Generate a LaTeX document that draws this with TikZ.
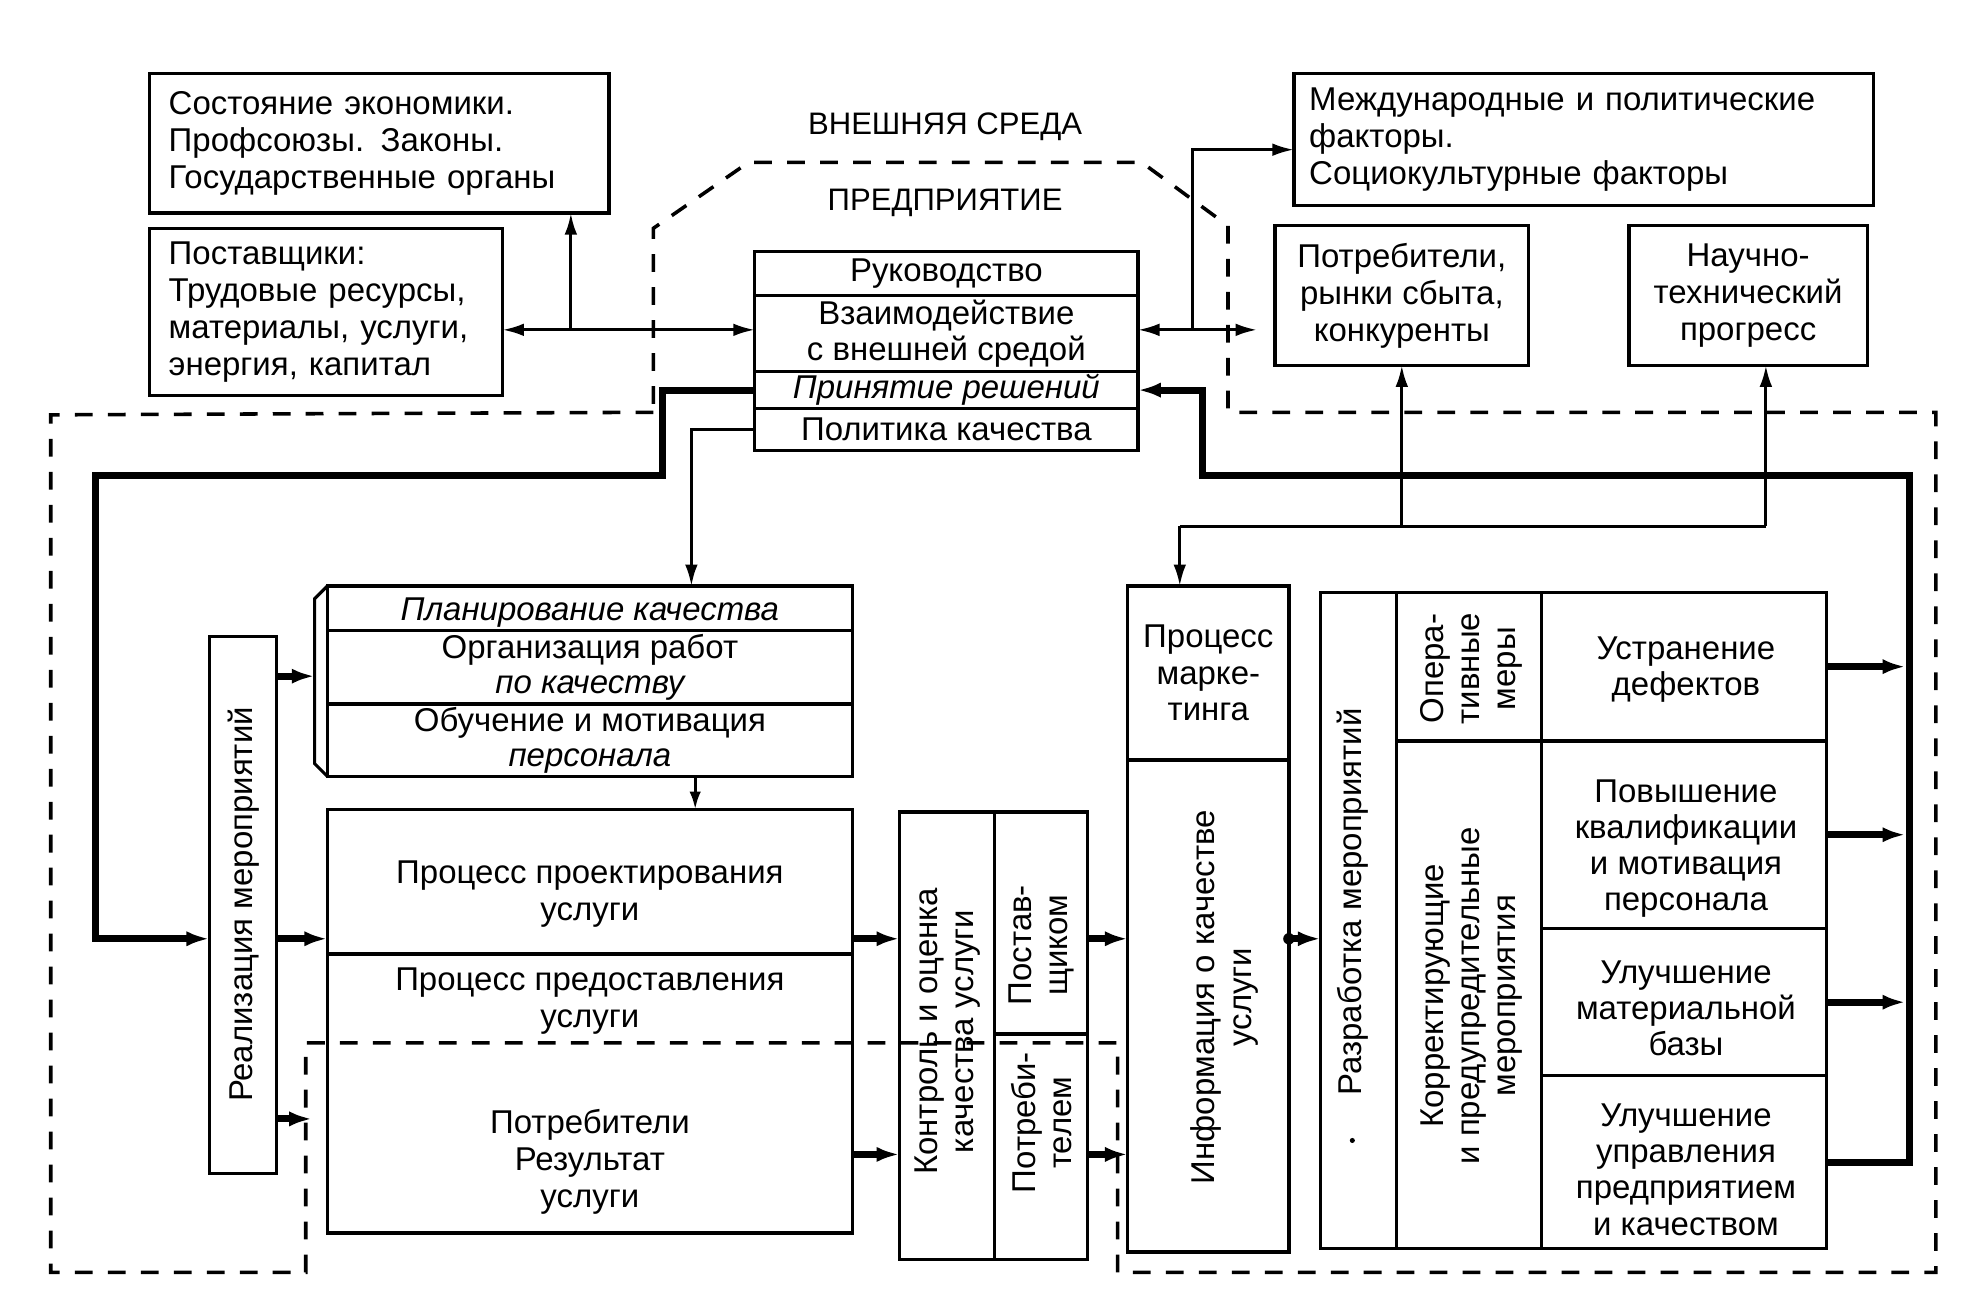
\documentclass[tikz,border=0pt]{standalone}
\usepackage{fontspec}
\setmainfont{Liberation Sans}
\usetikzlibrary{arrows.meta}
\newcommand\fsz{\fontsize{26}{29}\selectfont}
\newcommand\fsr{\fontsize{26}{28.5}\selectfont}
\newcommand\fsl{\fontsize{24.5}{27}\selectfont}
\begin{document}
\begin{tikzpicture}[x=1pt,y=-1pt,
  box/.style={draw, line width=2.6pt, inner sep=0pt, outer sep=0pt, align=center, font=\fsz},
  txt/.style={inner sep=0pt, align=center, font=\fsz},
  rtxt/.style={inner sep=0pt, align=center, font=\fsz, rotate=90},
  lab/.style={inner sep=0pt, font=\fsl},
  arr/.style={line width=2.4pt, -{Latex[length=17pt,width=10pt]}},
  sarr/.style={line width=2.4pt, -{Latex[length=14pt,width=9pt]}},
  darr/.style={line width=2.4pt, {Latex[length=17pt,width=10pt]}-{Latex[length=17pt,width=10pt]}},
  thkarr/.style={line width=5.5pt, line join=miter, -{Latex[length=18pt,width=12pt]}},
  bnd/.style={line width=2.8pt, dash pattern=on 14pt off 12pt},
]
\useasboundingbox (0,0) rectangle (1560,1020);
\fill[white] (0,0) rectangle (1560,1020);

% ---------- external environment ----------
\node[box, minimum width=362pt, minimum height=110pt, text width=332pt, align=left] (econ) at (299,113)
  {Состояние экономики.\\Профсоюзы. Законы.\\Государственные органы};
\node[box, minimum width=278pt, minimum height=132pt, text width=248pt, align=left] (sup) at (257,246)
  {Поставщики:\\Трудовые ресурсы,\\материалы, услуги,\\энергия, капитал};
\node[box, minimum width=457pt, minimum height=104pt, text width=433pt, align=left] (intl) at (1248.5,110)
  {Международные и политические\\факторы.\\Социокультурные факторы};
\node[box, minimum width=200pt, minimum height=110pt] (potr1) at (1105,233)
  {Потребители,\\рынки сбыта,\\конкуренты};
\node[box, minimum width=188pt, minimum height=110pt] (nauka) at (1378,233)
  {Научно-\\технический\\прогресс};

\node[lab] (vs) at (745,100) {ВНЕШНЯЯ СРЕДА};
\node[lab] (pr) at (745,160) {ПРЕДПРИЯТИЕ};

% ---------- management stack ----------
\node[box, minimum width=302pt, minimum height=35pt] (ruk) at (746,215.5) {Руководство};
\node[box, minimum width=302pt, minimum height=60pt] (vz) at (746,263) {Взаимодействие\\с внешней средой};
\node[box, minimum width=302pt, minimum height=29pt] (prin) at (746,307.5) {\itshape Принятие решений};
\node[box, minimum width=302pt, minimum height=33pt] (pol) at (746,338.5) {Политика качества};

% ---------- planning ----------
\node[box, minimum width=414pt, minimum height=35pt] (plan) at (465,479.5) {};
\node[txt] (plant) at (465,483) {\itshape Планирование качества};
\node[box, minimum width=414pt, minimum height=58pt, font=\fontsize{26}{28}\selectfont] (org) at (465,526) {Организация работ\\\itshape по качеству};
\node[box, minimum width=414pt, minimum height=57pt, font=\fontsize{26}{28}\selectfont] (obu) at (465,583.5) {Обучение и мотивация\\\itshape персонала};
\draw[line width=2.4pt] (plan.north west) -- ++(-10,10) -- ++(0,130) -- (obu.south west);

% ---------- processes ----------
\node[box, minimum width=414pt, minimum height=114pt] (proj) at (465,695) {};
\node[txt] (projt) at (465,705) {Процесс проектирования\\услуги};
\node[box, minimum width=414pt, minimum height=220pt] (prov) at (465,862) {};
\node[txt] (provt1) at (465,789) {Процесс предоставления\\услуги};
\node[txt] (provt2) at (465,916) {Потребители\\Результат\\услуги};

\node[box, minimum width=53pt, minimum height=423pt] (real) at (191.5,713.5) {};
\node[rtxt] (realt) at (192,713) {Реализация мероприятий};

% ---------- control ----------
\node[box, minimum width=75pt, minimum height=353pt] (kon) at (746.5,816.5) {};
\node[rtxt] (kont) at (747,813) {Контроль и оценка\\качества услуги};
\node[box, minimum width=73pt, minimum height=175pt] (post) at (820.5,727.5) {};
\node[rtxt] (postt) at (821,745) {Постав-\\щиком};
\node[box, minimum width=73pt, minimum height=178pt] (potc) at (820.5,904) {};
\node[rtxt] (potct) at (821,885) {Потреби-\\телем};

% ---------- marketing ----------
\node[box, minimum width=127pt, minimum height=137pt] (mark) at (952.5,530.5) {Процесс\\марке-\\тинга};
\node[box, minimum width=127pt, minimum height=388pt] (info) at (952.5,793) {};
\node[rtxt] (infot) at (965,786) {Информация о качестве\\услуги};

% ---------- measures ----------
\node[box, minimum width=60pt, minimum height=517pt] (razr) at (1071,725.5) {};
\node[rtxt] (razrt) at (1066,711) {Разработка мероприятий};
\fill (1066,899) circle (2pt);
\node[box, minimum width=114pt, minimum height=117pt] (oper) at (1158,525.5) {};
\node[rtxt, font=\fsr] (opert) at (1160,527) {Опера-\\тивные\\меры};
\node[box, minimum width=114pt, minimum height=400pt] (korr) at (1158,784) {};
\node[rtxt, font=\fsr] (korrt) at (1160,785) {Корректирующие\\и предупредительные\\мероприятия};

\node[box, minimum width=225pt, minimum height=117pt] (ustr) at (1327.5,525.5) {};
\node[txt, font=\fsr] (ustrt) at (1329,528) {Устранение\\дефектов};
\node[box, minimum width=225pt, minimum height=148pt] (povy) at (1327.5,658) {};
\node[txt, font=\fsr] (povyt) at (1329,669) {Повышение\\квалификации\\и мотивация\\персонала};
\node[box, minimum width=225pt, minimum height=116pt] (ulm) at (1327.5,790) {};
\node[txt, font=\fsr] (ulmt) at (1329,795) {Улучшение\\материальной\\базы};
\node[box, minimum width=225pt, minimum height=136pt] (ulu) at (1327.5,916) {};
\node[txt, font=\fsr] (ulut) at (1329,922) {Улучшение\\управления\\предприятием\\и качеством};

% ---------- coordinates ----------
\coordinate (j1) at (450,260);
\coordinate (j2) at (940,260);
\coordinate (j3) at (940,118);
\coordinate (t1) at (522,375);
\coordinate (t2) at (75,375);
\coordinate (t3) at (75,740);
\coordinate (p1) at (545,0);
\coordinate (p2) at (548,0);
\coordinate (r1) at (1505,375);
\coordinate (r2) at (948,375);
\coordinate (m1) at (930,415);
\coordinate (m2) at (1392,415);
\coordinate (fc) at (248,533);
\coordinate (fc2) at (246,882);
\coordinate (q1) at (0,910);

% ---------- connectors ----------
\draw[darr] (sup.east |- j1) -- (vz.west |- j1);
\draw[arr] (j1) -- (j1 |- econ.south);
\draw[darr, shorten >=14pt] (vz.east |- j2) -- (potr1.west |- j2);
\draw[arr] (j2) -- (j3) -- (intl.west |- j3);

\draw[thkarr] (prin.west) -| (t1) -- (t2) -- (t3) -- (real.west |- t3);
\draw[arr] (pol.west) -| (p1 |- plan.north);
\draw[thkarr] (ulu.east) -| (r1) -- (r2) |- (prin.east);

\draw[line width=2.4pt] (m1) -- (m2);
\draw[arr] (m1 -| potr1.south) -- (potr1.south);
\draw[arr] (m2) -- (m2 |- nauka.south);
\draw[arr] (m1) -- (m1 |- mark.north);

\draw[thkarr] (real.east |- fc) -- (fc);
\draw[thkarr] (real.east |- t3) -- (proj.west |- t3);
\draw[thkarr] (real.east |- fc2) -- (fc2);
\draw[sarr] (p2 |- obu.south) -- (p2 |- proj.north);

\draw[thkarr] (proj.east |- t3) -- (kon.west |- t3);
\draw[thkarr] (prov.east |- q1) -- (kon.west |- q1);
\draw[thkarr] (post.east |- t3) -- (info.west |- t3);
\draw[thkarr] (potc.east |- q1) -- (info.west |- q1);
\fill (info.east |- t3) circle (4.5pt);
\draw[thkarr] (info.east |- t3) -- (razr.west |- t3);

\draw[thkarr, shorten >=3pt] (ustr.east) -- (ustr.east -| r1);
\draw[thkarr, shorten >=3pt] (povy.east) -- (povy.east -| r1);
\draw[thkarr, shorten >=3pt] (ulm.east) -- (ulm.east -| r1);

% ---------- enterprise boundary ----------
\draw[bnd] (515,325) -- (40,327) -- (40,1003) -- (241,1003) -- (241,822) -- (881,822)
  -- (881,1003) -- (1526,1003) -- (1526,325) -- (968,325) -- (968,178) -- (900,128)
  -- (590,128) -- (515,180) -- cycle;
\end{tikzpicture}
\end{document}
